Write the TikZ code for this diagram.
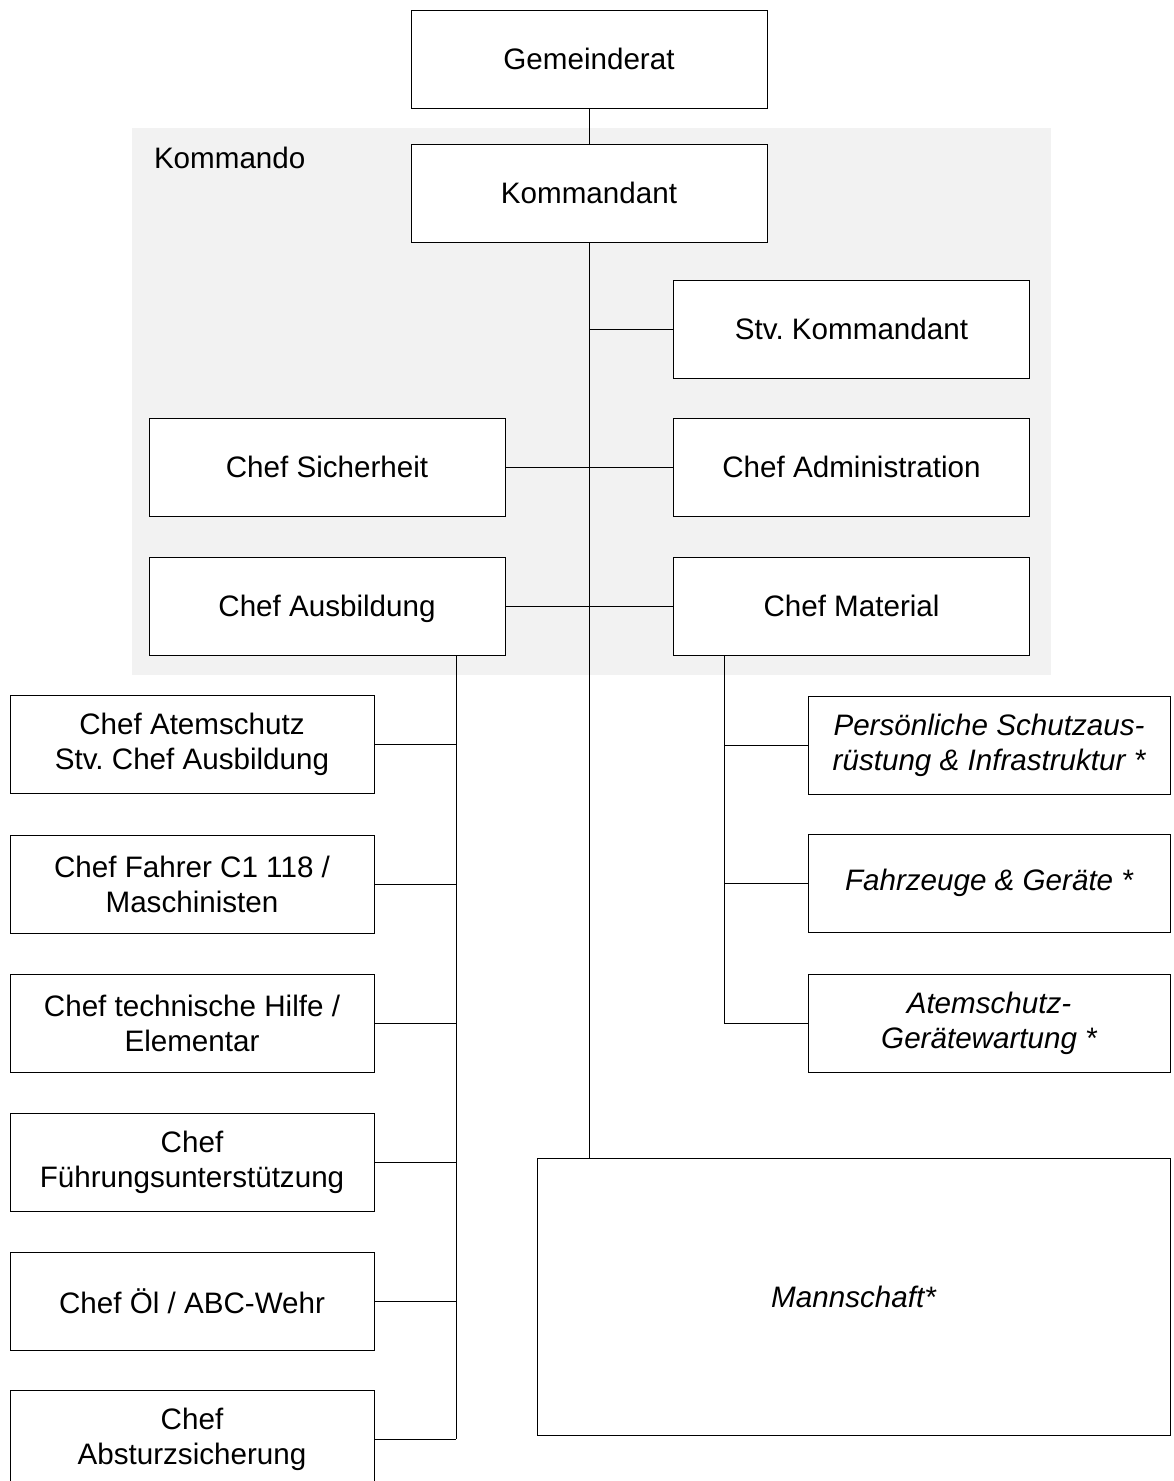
\documentclass[tikz,border=0pt]{standalone}
\usepackage{fontspec}
\setmainfont{Liberation Sans}
\definecolor{kdobg}{HTML}{F2F2F2}
\frenchspacing
\begin{document}
\begin{tikzpicture}[x=0.5pt, y=-0.5pt]
\tikzset{ line width=1.3pt, inner sep=0pt, outer sep=0pt,
  box/.style={draw=black, fill=white, align=center, font=\fontsize{14.8}{17.5}\selectfont},
  topbox/.style={box, minimum width=178pt, minimum height=49pt, text height=10.7pt, text depth=0.3pt},
  leftbox/.style={box, minimum width=182pt, minimum height=49pt},
  rightbox/.style={box, minimum width=181pt, minimum height=49pt, font=\fontsize{14.8}{17.5}\selectfont\itshape},
}

\useasboundingbox (0,0) rectangle (1173,1481);

%\draw [lightgray, dashed](0,0) grid [step=100] (1173,1481);

% Kommando
\fill [kdobg] (132,128) rectangle (1051,675);
\node [anchor=west, font=\fontsize{14.8}{17.5}\selectfont] (kdo) at (154,158) {Kommando};

\node [topbox] (gr)  at (589,59)    {Gemeinderat};
\node [topbox] (kdt) at (589,193.5) {Kommandant};

\node [topbox] (stv)  at (851.5,329.5) {Stv. Kommandant};
\node [topbox] (sich) at (327,467.5)   {Chef Sicherheit};
\node [topbox] (adm)  at (851.5,467.5) {Chef Administration};
\node [topbox] (ausb) at (327,606)     {Chef Ausbildung};
\node [topbox] (mat)  at (851.5,606)   {Chef Material};

\node [leftbox] (atem)   at (192,744)    {Chef Atemschutz\\Stv. Chef Ausbildung};
\node [leftbox] (fahrer) at (192,884)    {Chef Fahrer C1 118 /\\Maschinisten};
\node [leftbox] (th)     at (192,1023.5) {Chef technische Hilfe /\\Elementar};
\node [leftbox] (fu)     at (192,1162.5) {Chef\\Führungsunterstützung};
\node [leftbox] (oel)    at (192,1301.5) {Chef Öl / ABC-Wehr};
\node [leftbox] (abs)    at (192,1439)   {Chef\\Absturzsicherung};

\node [rightbox] (psa) at (989,745)    {Persönliche Schutzaus-\\rüstung \& Infrastruktur *};
\node [rightbox] (fzg) at (989,883)    {Fahrzeuge \& Geräte *};
\node [rightbox] (atg) at (989,1023.5) {Atemschutz-\\Gerätewartung *};

\node [box, minimum width=316.5pt, minimum height=138.5pt, font=\fontsize{14.8}{17.5}\selectfont\itshape] (mann) at (853.5,1296.5) {Mannschaft*};

\coordinate (lbus) at (456,655);
\coordinate (rbus) at (724,655);

\draw (gr.south) -- (kdt.north);
\draw (kdt.south) -- (kdt.south |- mann.north);
\draw (kdt.south |- stv.west) -- (stv.west);
\draw (sich.east) -- (adm.west);
\draw (ausb.east) -- (mat.west);

\draw (lbus) -- (lbus |- abs.east);
\draw (atem.east)   -- (atem.east -| lbus);
\draw (fahrer.east) -- (fahrer.east -| lbus);
\draw (th.east)     -- (th.east -| lbus);
\draw (fu.east)     -- (fu.east -| lbus);
\draw (oel.east)    -- (oel.east -| lbus);
\draw (abs.east)    -- (abs.east -| lbus);

\draw (rbus) -- (rbus |- atg.west);
\draw (psa.west) -- (psa.west -| rbus);
\draw (fzg.west) -- (fzg.west -| rbus);
\draw (atg.west) -- (atg.west -| rbus);

\end{tikzpicture}
\end{document}
